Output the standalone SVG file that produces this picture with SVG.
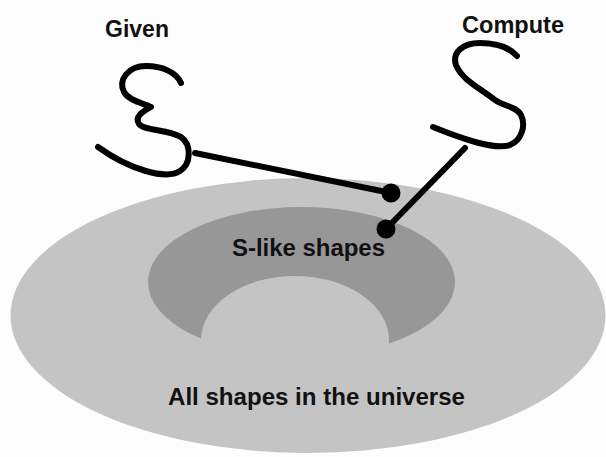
<svg xmlns="http://www.w3.org/2000/svg" width="606" height="457" viewBox="0 0 606 457">
<style>
.lbl{font-family:"Liberation Sans",Arial,sans-serif;font-weight:bold;font-size:23px;fill:#111;text-anchor:middle}
.ink{fill:none;stroke:#000;stroke-width:6;stroke-linecap:round;stroke-linejoin:round}
.light{fill:#c4c4c4}
.dark{fill:#979797}
</style>
<rect width="606" height="457" fill="#fdfdfd"/>
<g id="universe">
<ellipse class="light" cx="308" cy="315.5" rx="297.5" ry="137.5"/>
</g>
<g id="s-like">
<ellipse class="dark" cx="301.5" cy="282" rx="153.5" ry="75"/>
<ellipse class="light" cx="295" cy="340" rx="94" ry="64"/>
</g>
<g id="labels-universe">
<text class="lbl" x="316.5" y="405" textLength="297" lengthAdjust="spacingAndGlyphs">All shapes in the universe</text>
<text class="lbl" x="308.5" y="256" textLength="153" lengthAdjust="spacingAndGlyphs">S-like shapes</text>
</g>
<g id="given">
<text class="lbl" x="137" y="37">Given</text>
<path class="ink" d="M181,83 C176,72 162,66 146,66 C128,66 118,80 124,92 C129,101 143,103 151,107 C144,111 134,116 139,124 C144,131 168,129 181,137 C192,145 191,164 180,171 C166,180 130,170 98,147"/>
</g>
<g id="compute">
<text class="lbl" x="513" y="33" textLength="102" lengthAdjust="spacingAndGlyphs">Compute</text>
<path class="ink" d="M517,56 C508,46 495,43 480,43 C462,43 452,53 456,65 C462,80 480,88 495,100 C505,107 516,106 521,115 C526,125 522,140 510,145 C495,150 465,140 433,127"/>
</g>
<g id="connectors">
<line class="ink" x1="195" y1="153" x2="391" y2="193"/>
<line class="ink" x1="465" y1="148" x2="386" y2="229"/>
<circle cx="391" cy="193" r="9.5" fill="#000"/>
<circle cx="386" cy="229" r="9.5" fill="#000"/>
</g>
</svg>
